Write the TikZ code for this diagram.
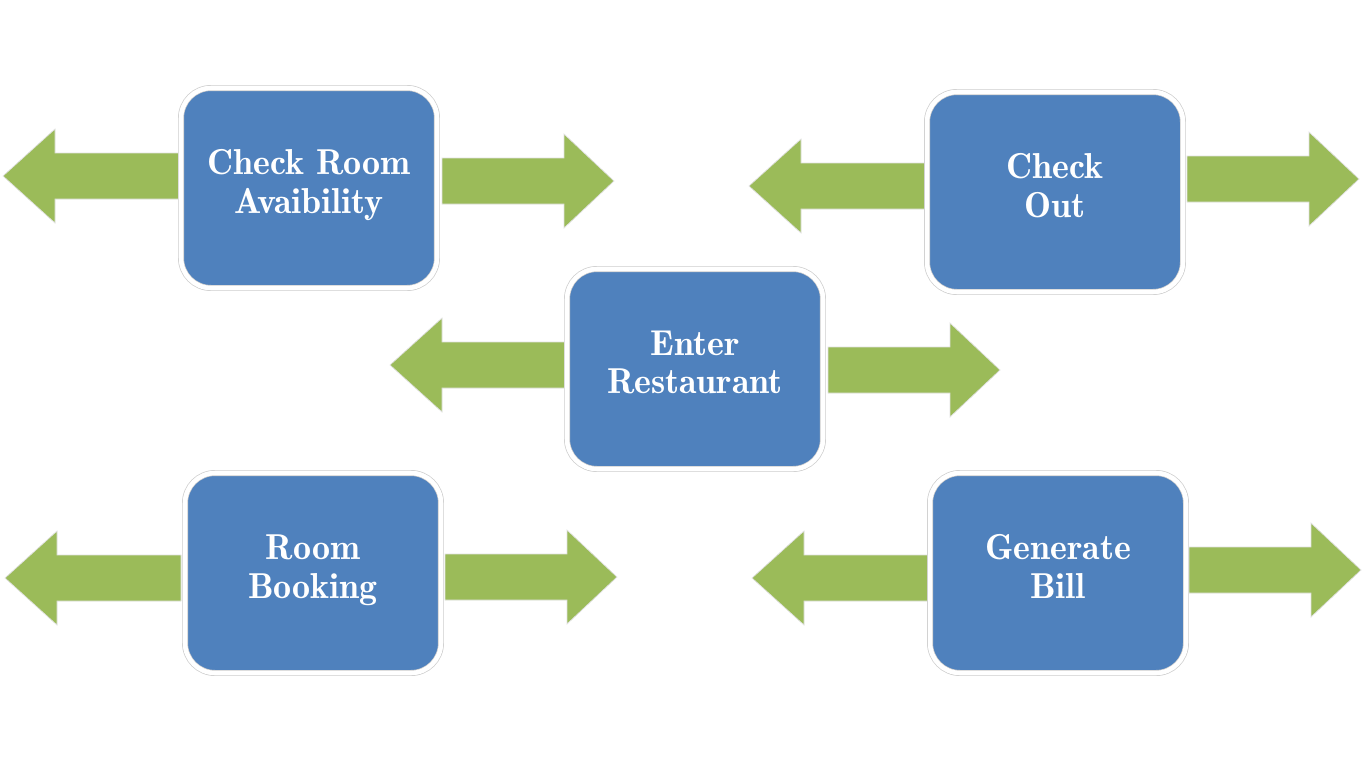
\documentclass[tikz,border=0pt]{standalone}
\usepackage{tikz}
\usetikzlibrary{positioning}

\definecolor{boxblue}{HTML}{4F81BD}
\definecolor{arrowgreen}{HTML}{9BBB59}

\tikzset{
  task/.style={draw=black!20, double=white, double distance=2.6pt, fill=boxblue,
    rounded corners=0.6cm, minimum width=5.12cm, minimum height=4cm,
    text=white, align=center, text depth=0.26cm,
    font=\fontsize{20.5}{21.8}\fontseries{b}\selectfont},
  flow/.style={fill=arrowgreen, draw=black!12, line width=0.4pt},
  goright/.pic={\draw[flow] (0,-23) -- (122,-23) -- (122,-47) -- (172,0) -- (122,47) -- (122,23) -- (0,23) -- cycle;},
  goleft/.pic={\draw[flow] (0,0) -- (52,-47) -- (52,-23) -- (176,-23) -- (176,23) -- (52,23) -- (52,47) -- cycle;}
}

\begin{document}
\begin{tikzpicture}[x=0.02cm,y=-0.02cm]
  \useasboundingbox (0,0) rectangle (1366,768);
  % arrows first, boxes over them
  \foreach \x/\y in {3/176, 749/186, 390/365, 5/578, 752/578}
    \pic at (\x,\y) {goleft};
  \foreach \x/\y in {442/181, 1187/179, 828/370, 445/577, 1189/570}
    \pic at (\x,\y) {goright};
  % tasks
  \node[task] (room)  at (309,188)  {Check Room\\Avaibility};
  \node[task] (out)   at (1055,192) {Check\\Out};
  \node[task] (rest)  at (695,369)  {Enter\\Restaurant};
  \node[task] (book)  at (313,573)  {Room\\Booking};
  \node[task] (bill)  at (1058,573) {Generate\\Bill};
\end{tikzpicture}
\end{document}
